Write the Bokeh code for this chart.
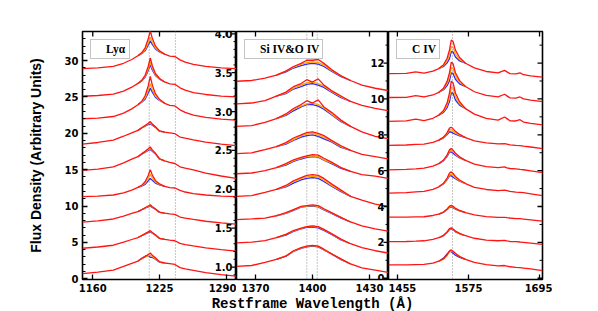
import math
from bokeh.plotting import figure
from bokeh.layouts import row, column
from bokeh.models import Range1d, FixedTicker, Span, Legend, LegendItem, Label
from bokeh.core.properties import value
from bokeh.embed import file_html
from bokeh.resources import INLINE

# ---------------- data ----------------
# Panel 1: Ly alpha
lya_xlim = (1150, 1300)
lya_ylim = (-0.1, 34.0)
lya_xticks = [1160, 1225, 1290]
lya_yticks = [0, 5, 10, 15, 20, 25, 30]
lya_yminor = [v for v in range(0, 35) if v % 5 != 0]
lya_marks = [1215, 1240.5]
lya_wave = [1150, 1165, 1180, 1190, 1198, 1204, 1208, 1211, 1214, 1216, 1218,
            1221, 1225, 1230, 1235, 1240, 1245, 1250, 1258, 1270, 1285, 1300]
lya_red = [
    [28.90, 29.00, 29.21, 29.63, 30.15, 30.67, 31.14, 31.76, 32.96, 34.10, 33.06, 32.02, 31.34, 30.88, 30.62, 30.56, 30.10, 29.78, 29.47, 29.21, 29.00, 28.90],
    [25.10, 25.20, 25.40, 25.81, 26.34, 26.86, 27.34, 27.98, 29.19, 30.36, 29.29, 28.23, 27.54, 27.06, 26.79, 26.74, 26.26, 25.93, 25.61, 25.34, 25.12, 25.00],
    [22.00, 22.10, 22.31, 22.78, 23.36, 23.94, 24.46, 25.17, 26.51, 27.81, 26.63, 25.45, 24.67, 24.13, 23.84, 23.77, 23.23, 22.87, 22.51, 22.19, 21.94, 21.80],
    [18.50, 18.74, 19.07, 19.60, 20.07, 20.41, 20.79, 21.08, 21.39, 21.61, 21.29, 20.91, 20.32, 20.15, 20.05, 19.95, 19.49, 19.33, 19.10, 18.79, 18.51, 18.30],
    [14.90, 15.09, 15.38, 15.94, 16.44, 16.79, 17.21, 17.52, 17.87, 18.12, 17.73, 17.27, 16.50, 16.20, 16.00, 15.85, 15.40, 15.20, 14.96, 14.54, 14.13, 13.80],
    [11.30, 11.37, 11.52, 11.82, 12.19, 12.56, 12.89, 13.34, 14.19, 15.00, 14.26, 13.52, 13.04, 12.71, 12.52, 12.48, 12.15, 11.93, 11.71, 11.52, 11.37, 11.30],
    [7.80, 7.97, 8.22, 8.62, 8.98, 9.24, 9.53, 9.76, 10.00, 10.17, 9.91, 9.61, 9.15, 9.02, 8.93, 8.85, 8.49, 8.35, 8.16, 7.91, 7.68, 7.50],
    [4.20, 4.37, 4.61, 5.03, 5.40, 5.67, 5.97, 6.20, 6.45, 6.62, 6.36, 6.04, 5.56, 5.42, 5.32, 5.23, 4.86, 4.71, 4.51, 4.24, 4.00, 3.80],
    [0.70, 0.91, 1.20, 1.69, 2.12, 2.44, 2.79, 3.05, 3.35, 3.55, 3.25, 2.88, 2.33, 2.17, 2.07, 1.97, 1.53, 1.37, 1.15, 0.85, 0.57, 0.36],
]
lya_peak_wave = [1204, 1208, 1211, 1214, 1216, 1218, 1221, 1225, 1230]
lya_blue = [
    [30.67, 31.00, 31.34, 32.12, 32.70, 32.22, 31.60, 31.20, 30.88],
    [26.86, 27.25, 27.70, 28.62, 29.41, 28.72, 27.95, 27.45, 27.06],
    [23.94, 24.30, 24.69, 25.55, 26.21, 25.67, 24.97, 24.51, 24.13],
    [20.41, 20.76, 20.99, 21.21, 21.31, 21.11, 20.82, 20.29, 20.15],
    [16.79, 17.18, 17.42, 17.66, 17.77, 17.52, 17.17, 16.47, 16.20],
    [12.56, 12.77, 12.98, 13.47, 13.80, 13.54, 13.16, 12.92, 12.71],
    [9.24, 9.51, 9.71, 9.89, 9.99, 9.80, 9.56, 9.13, 9.02],
    [5.67, 5.95, 6.15, 6.34, 6.44, 6.25, 5.99, 5.54, 5.42],
    [2.44, 2.85, 3.10, 3.20, 2.95, 2.95, 2.70, 2.28, 2.17],
]
lya_orange = [
    [30.67, 31.05, 31.49, 32.42, 33.20, 32.52, 31.75, 31.25, 30.88],
    [26.86, 27.28, 27.81, 28.84, 29.78, 28.94, 28.06, 27.48, 27.06],
    [23.94, 24.36, 24.87, 25.91, 26.81, 26.03, 25.15, 24.57, 24.13],
    [20.41, 20.78, 21.04, 21.30, 21.46, 21.20, 20.87, 20.31, 20.15],
    [16.79, 17.19, 17.47, 17.76, 17.94, 17.62, 17.22, 16.48, 16.20],
    [12.56, 12.83, 13.15, 13.80, 14.35, 13.87, 13.33, 12.98, 12.71],
    [9.24, 9.52, 9.74, 9.95, 10.09, 9.86, 9.59, 9.14, 9.02],
    [5.67, 5.96, 6.18, 6.40, 6.54, 6.31, 6.02, 5.55, 5.42],
    [2.44, 2.80, 3.00, 3.15, 3.25, 3.05, 2.75, 2.30, 2.17],
]

# Panel 2: Si IV & O IV
si_xlim = (1360, 1440)
si_ylim = (0.84, 4.03)
si_xticks = [1370, 1400, 1430]
si_yticks = [1.0, 1.5, 2.0, 2.5, 3.0, 3.5, 4.0]
si_ylabels = ["1.0", "1.5", "2.0", "2.5", "3.0", "3.5", "4.0"]
si_yminor = [round(0.9 + 0.1 * k, 2) for k in range(32) if (k + 9) % 5 != 0]
si_marks = [1397, 1402.5]
si_wave = [1360, 1368, 1375, 1381, 1386, 1390, 1394, 1397, 1400, 1403, 1406,
           1410, 1415, 1420, 1426, 1433, 1440]
si_red = [
    [3.39, 3.40, 3.43, 3.47, 3.52, 3.58, 3.62, 3.66, 3.66, 3.67, 3.62, 3.54, 3.46, 3.40, 3.34, 3.30, 3.27],
    [3.10, 3.11, 3.14, 3.20, 3.25, 3.32, 3.36, 3.41, 3.38, 3.42, 3.34, 3.27, 3.20, 3.13, 3.08, 3.04, 3.01],
    [2.81, 2.82, 2.86, 2.91, 2.97, 3.04, 3.09, 3.14, 3.11, 3.15, 3.06, 2.99, 2.89, 2.81, 2.74, 2.68, 2.65],
    [2.46, 2.47, 2.51, 2.55, 2.60, 2.66, 2.70, 2.73, 2.74, 2.72, 2.69, 2.63, 2.56, 2.50, 2.45, 2.42, 2.39],
    [2.20, 2.21, 2.24, 2.28, 2.33, 2.38, 2.41, 2.43, 2.445, 2.44, 2.40, 2.35, 2.28, 2.23, 2.19, 2.17, 2.14],
    [1.91, 1.92, 1.96, 2.00, 2.05, 2.11, 2.15, 2.18, 2.19, 2.18, 2.14, 2.07, 1.99, 1.91, 1.86, 1.81, 1.78],
    [1.61, 1.62, 1.63, 1.66, 1.70, 1.74, 1.78, 1.79, 1.80, 1.79, 1.75, 1.70, 1.64, 1.58, 1.53, 1.49, 1.46],
    [1.31, 1.32, 1.34, 1.38, 1.42, 1.47, 1.50, 1.52, 1.53, 1.52, 1.485, 1.43, 1.36, 1.30, 1.25, 1.21, 1.18],
    [1.01, 1.02, 1.06, 1.10, 1.14, 1.21, 1.25, 1.27, 1.28, 1.27, 1.23, 1.17, 1.105, 1.04, 0.99, 0.96, 0.93],
]
si_peak_wave = [1381, 1386, 1390, 1394, 1397, 1400, 1403, 1406, 1410, 1415, 1420]
si_blue = [
    [3.47, 3.51, 3.56, 3.59, 3.61, 3.62, 3.61, 3.58, 3.52, 3.45, 3.40],
    [3.20, 3.23, 3.29, 3.32, 3.35, 3.36, 3.34, 3.31, 3.25, 3.18, 3.13],
    [2.91, 2.95, 3.01, 3.06, 3.09, 3.09, 3.07, 3.03, 2.96, 2.87, 2.81],
    [2.55, 2.58, 2.63, 2.67, 2.69, 2.70, 2.68, 2.65, 2.61, 2.54, 2.50],
    [2.28, 2.31, 2.36, 2.39, 2.41, 2.42, 2.415, 2.375, 2.33, 2.27, 2.23],
    [2.00, 2.03, 2.08, 2.12, 2.14, 2.15, 2.14, 2.10, 2.04, 1.97, 1.91],
    [1.66, 1.69, 1.73, 1.77, 1.78, 1.785, 1.775, 1.735, 1.69, 1.63, 1.58],
    [1.38, 1.41, 1.46, 1.49, 1.51, 1.515, 1.505, 1.47, 1.42, 1.35, 1.30],
    [1.10, 1.14, 1.20, 1.24, 1.26, 1.27, 1.26, 1.22, 1.17, 1.095, 1.04],
]
si_orange = [
    [3.47, 3.52, 3.57, 3.61, 3.63, 3.64, 3.63, 3.60, 3.53, 3.46, 3.40],
    [3.20, 3.24, 3.30, 3.34, 3.37, 3.38, 3.36, 3.33, 3.26, 3.19, 3.13],
    [2.91, 2.96, 3.03, 3.07, 3.10, 3.11, 3.09, 3.05, 2.97, 2.88, 2.81],
    [2.55, 2.59, 2.64, 2.69, 2.71, 2.72, 2.70, 2.67, 2.62, 2.55, 2.50],
    [2.28, 2.32, 2.37, 2.40, 2.42, 2.43, 2.42, 2.38, 2.34, 2.28, 2.23],
    [2.00, 2.04, 2.10, 2.14, 2.16, 2.17, 2.16, 2.12, 2.05, 1.98, 1.91],
    [1.66, 1.695, 1.735, 1.775, 1.785, 1.79, 1.78, 1.74, 1.695, 1.635, 1.58],
    [1.38, 1.42, 1.465, 1.495, 1.52, 1.525, 1.515, 1.48, 1.425, 1.355, 1.30],
    [1.10, 1.145, 1.205, 1.245, 1.265, 1.275, 1.265, 1.225, 1.17, 1.10, 1.04],
]

# Panel 3: C IV
civ_xlim = (1440, 1700)
civ_ylim = (-0.07, 13.76)
civ_xticks = [1455, 1575, 1695]
civ_yticks = [0, 2, 4, 6, 8, 10, 12]
civ_ylabels = ["0", "2", "4", "6", "8", "10", "12"]
civ_yminor = [1, 3, 5, 7, 9, 11, 13]
civ_marks = [1548]
civ_wave = [1440, 1470, 1486, 1500, 1515, 1525, 1533, 1539, 1543, 1546, 1549, 1553, 1560,
            1570, 1585, 1605, 1625, 1636, 1640, 1645, 1655, 1662, 1668, 1680, 1700]
civ_red = [
    [11.41, 11.43, 11.51, 11.44, 11.55, 11.69, 11.91, 12.27, 12.73, 13.28, 13.20, 12.72, 12.31, 11.99, 11.73, 11.53, 11.45, 11.59, 11.51, 11.41, 11.40, 11.45, 11.35, 11.29, 11.21],
    [10.08, 10.09, 10.18, 10.11, 10.22, 10.37, 10.60, 10.98, 11.47, 12.05, 11.96, 11.46, 11.02, 10.69, 10.40, 10.20, 10.11, 10.26, 10.17, 10.06, 10.05, 10.11, 10.00, 9.93, 9.85],
    [8.75, 8.78, 8.87, 8.79, 8.92, 9.10, 9.35, 9.78, 10.34, 10.99, 10.90, 10.33, 9.84, 9.46, 9.15, 8.92, 8.82, 8.99, 8.90, 8.78, 8.77, 8.84, 8.71, 8.64, 8.55],
    [7.41, 7.43, 7.46, 7.48, 7.58, 7.70, 7.87, 8.12, 8.37, 8.42, 8.33, 8.19, 8.02, 7.84, 7.66, 7.55, 7.49, 7.51, 7.48, 7.44, 7.41, 7.40, 7.37, 7.32, 7.23],
    [6.04, 6.07, 6.10, 6.14, 6.25, 6.39, 6.59, 6.88, 7.17, 7.23, 7.14, 6.97, 6.77, 6.57, 6.36, 6.23, 6.17, 6.21, 6.16, 6.12, 6.10, 6.07, 6.05, 5.99, 5.89],
    [4.75, 4.78, 4.82, 4.84, 4.96, 5.10, 5.30, 5.59, 5.87, 5.93, 5.84, 5.68, 5.48, 5.28, 5.07, 4.95, 4.89, 4.91, 4.88, 4.84, 4.80, 4.79, 4.77, 4.71, 4.61],
    [3.41, 3.41, 3.42, 3.43, 3.50, 3.58, 3.69, 3.86, 4.02, 4.06, 4.01, 3.90, 3.78, 3.66, 3.53, 3.44, 3.39, 3.40, 3.38, 3.36, 3.33, 3.32, 3.30, 3.26, 3.19],
    [2.04, 2.05, 2.07, 2.09, 2.17, 2.26, 2.39, 2.58, 2.77, 2.81, 2.75, 2.63, 2.50, 2.37, 2.23, 2.13, 2.09, 2.11, 2.08, 2.05, 2.04, 2.02, 2.00, 1.96, 1.89],
    [0.75, 0.75, 0.76, 0.77, 0.84, 0.95, 1.09, 1.31, 1.53, 1.58, 1.50, 1.38, 1.21, 1.05, 0.88, 0.76, 0.69, 0.71, 0.68, 0.64, 0.61, 0.59, 0.57, 0.52, 0.42],
]
civ_peak_wave = [1525, 1533, 1539, 1543, 1546, 1549, 1553, 1560, 1570]
civ_blue = [
    [11.69, 11.81, 12.01, 12.25, 12.64, 12.62, 12.34, 12.12, 11.99],
    [10.37, 10.51, 10.74, 11.02, 11.45, 11.42, 11.10, 10.84, 10.69],
    [9.10, 9.25, 9.52, 9.85, 10.34, 10.32, 9.94, 9.65, 9.46],
    [7.70, 7.83, 8.01, 8.17, 8.15, 8.09, 8.03, 7.94, 7.84],
    [6.39, 6.56, 6.80, 7.03, 7.04, 6.97, 6.86, 6.71, 6.57],
    [5.10, 5.27, 5.50, 5.71, 5.71, 5.64, 5.55, 5.41, 5.28],
    [3.58, 3.68, 3.83, 3.96, 3.98, 3.94, 3.85, 3.76, 3.66],
    [2.26, 2.38, 2.56, 2.72, 2.75, 2.70, 2.59, 2.48, 2.37],
    [0.95, 1.12, 1.36, 1.50, 1.48, 1.40, 1.28, 1.16, 1.05],
]
civ_orange = [
    [11.69, 11.86, 12.13, 12.46, 12.92, 12.88, 12.50, 12.20, 11.99],
    [10.37, 10.56, 10.86, 11.25, 11.75, 11.69, 11.28, 10.93, 10.69],
    [9.10, 9.30, 9.65, 10.09, 10.66, 10.60, 10.13, 9.74, 9.46],
    [7.70, 7.85, 8.07, 8.27, 8.29, 8.21, 8.11, 7.98, 7.84],
    [6.39, 6.58, 6.84, 7.10, 7.14, 7.06, 6.92, 6.74, 6.57],
    [5.10, 5.28, 5.54, 5.78, 5.81, 5.73, 5.61, 5.44, 5.28],
    [3.58, 3.69, 3.85, 3.99, 4.02, 3.97, 3.88, 3.77, 3.66],
    [2.26, 2.39, 2.57, 2.75, 2.78, 2.72, 2.61, 2.49, 2.37],
    [0.95, 1.07, 1.27, 1.47, 1.53, 1.49, 1.39, 1.22, 1.05],
]

panel_labels = ["Ly\u03b1", "Si IV&O IV", "C IV"]
x_title = "Restframe Wavelength (\u00c5)"
y_title = "Flux Density (Arbitrary Units)"

# ---------------- styling ----------------
RED = "#ff1414"
ORANGE = "#ffa500"
BLUE = "#2b2bff"
TICK_FONT = "DejaVu Sans"
ROW_H = 295
TOP = 31
BOTTOM = 16


def base_fig(width, xlim, ylim, left, right):
    p = figure(width=width, height=ROW_H, x_range=Range1d(*xlim), y_range=Range1d(*ylim),
               output_backend="svg", toolbar_location=None,
               min_border_left=left, min_border_right=right,
               min_border_top=TOP, min_border_bottom=BOTTOM,
               y_axis_location="left" if left > 0 else None)
    p.grid.visible = False
    p.outline_line_color = "black"
    p.outline_line_width = 1.6
    p.background_fill_color = "white"
    p.border_fill_color = "white"
    return p


def style_axis(ax):
    ax.major_tick_in = 5
    ax.major_tick_out = 0
    ax.minor_tick_in = 3
    ax.minor_tick_out = 0
    ax.axis_line_color = None
    ax.major_tick_line_color = "black"
    ax.major_tick_line_width = 1.3
    ax.minor_tick_line_color = "black"
    ax.minor_tick_line_width = 1
    ax.major_label_text_font = TICK_FONT
    ax.major_label_text_font_style = "bold"
    ax.major_label_text_font_size = "10px"
    ax.major_label_text_color = "black"
    ax.major_label_standoff = 4


def tick_rays(p, x, y, angle, length, range_name=None):
    kw = {"y_range_name": range_name} if range_name else {}
    p.ray(x=x, y=y, length=length, length_units="screen", angle=angle,
          line_color="black", line_width=1.3 if length > 3 else 1, **kw)


def add_x_axes(p, ticks):
    p.xaxis[0].ticker = FixedTicker(ticks=ticks, minor_ticks=[])
    style_axis(p.xaxis[0])
    # mirrored tick marks on the top edge
    tick_rays(p, ticks, [p.y_range.end] * len(ticks), -math.pi / 2, 5)


def add_edge_ticks(p, ticks, minor, range_name=None):
    xe = p.x_range.end
    tick_rays(p, [xe] * len(ticks), ticks, math.pi, 5, range_name)
    tick_rays(p, [xe] * len(minor), minor, math.pi, 3, range_name)


def add_spectra(p, wave, red, peak_wave, blue, orange):
    for i in range(len(red)):
        p.line(peak_wave, blue[i], line_color=BLUE, line_width=1.3)
        p.line(peak_wave, orange[i], line_color=ORANGE, line_width=1.3)
        p.line(wave, red[i], line_color=RED, line_width=1.3)


def add_marks(p, marks):
    for w in marks:
        p.add_layout(Span(location=w, dimension="height", line_color="#8c8c8c",
                          line_dash="1 2", line_width=1, level="underlay"))


def add_box_label(p, text):
    dummy = p.line([], [], line_color=None)
    leg = Legend(items=[LegendItem(label=text, renderers=[dummy])], location="top_left",
                 margin=8, padding=3, spacing=0, glyph_width=9, glyph_height=11,
                 label_height=11, label_standoff=3,
                 label_text_font="Liberation Serif", label_text_font_style="bold",
                 label_text_font_size="11.5px", label_text_color="black",
                 border_line_color="#8a8a8a", border_line_width=1,
                 background_fill_color="white", background_fill_alpha=1)
    p.add_layout(leg)


def add_inner_labels(p, ticks, labels, range_name):
    p.text(x=[p.x_range.end] * len(ticks), y=ticks, text=labels, y_range_name=range_name,
           x_offset=-4, text_align="right", text_baseline="middle",
           text_font=value(TICK_FONT), text_font_style="bold", text_font_size="10px",
           text_color="black")


# Panel 1
p1 = base_fig(236, lya_xlim, lya_ylim, 82, 0)
p1.extra_y_ranges = {"si": Range1d(*si_ylim)}
add_marks(p1, lya_marks)
add_spectra(p1, lya_wave, lya_red, lya_peak_wave, lya_blue, lya_orange)
add_x_axes(p1, lya_xticks)
ya = p1.yaxis[0]
ya.ticker = FixedTicker(ticks=lya_yticks, minor_ticks=lya_yminor)
style_axis(ya)
ya.major_label_standoff = 4
ya.axis_label = y_title
ya.axis_label_text_font = "Liberation Sans"
ya.axis_label_text_font_style = "bold"
ya.axis_label_text_font_size = "14px"
ya.axis_label_text_color = "black"
ya.axis_label_standoff = 18
add_edge_ticks(p1, si_yticks, si_yminor, "si")
add_inner_labels(p1, si_yticks, si_ylabels, "si")
add_box_label(p1, panel_labels[0])

# Panel 2
p2 = base_fig(152, si_xlim, si_ylim, 0, 0)
p2.extra_y_ranges = {"civ": Range1d(*civ_ylim)}
add_marks(p2, si_marks)
add_spectra(p2, si_wave, si_red, si_peak_wave, si_blue, si_orange)
add_x_axes(p2, si_xticks)
add_edge_ticks(p2, civ_yticks, civ_yminor, "civ")
add_inner_labels(p2, civ_yticks, civ_ylabels, "civ")
add_box_label(p2, panel_labels[1])

# Panel 3
p3 = base_fig(164, civ_xlim, civ_ylim, 0, 10)
add_marks(p3, civ_marks)
add_spectra(p3, civ_wave, civ_red, civ_peak_wave, civ_blue, civ_orange)
add_x_axes(p3, civ_xticks)
add_edge_ticks(p3, civ_yticks, civ_yminor)
add_box_label(p3, panel_labels[2])

# shared x title strip
p4 = figure(width=552, height=16, x_range=Range1d(0, 1), y_range=Range1d(0, 1),
            output_backend="svg", toolbar_location=None, min_border=0,
            x_axis_location=None, y_axis_location=None)
p4.grid.visible = False
p4.outline_line_color = None
p4.add_layout(Label(x=312, y=0, x_units="screen", y_units="screen", text=x_title,
                    text_align="center", text_baseline="bottom",
                    text_font="Liberation Mono", text_font_style="bold",
                    text_font_size="14px", text_color="black"))

layout = column(row(p1, p2, p3, spacing=0), p4, spacing=0)
open("out.html", "w").write(file_html(layout, INLINE))
